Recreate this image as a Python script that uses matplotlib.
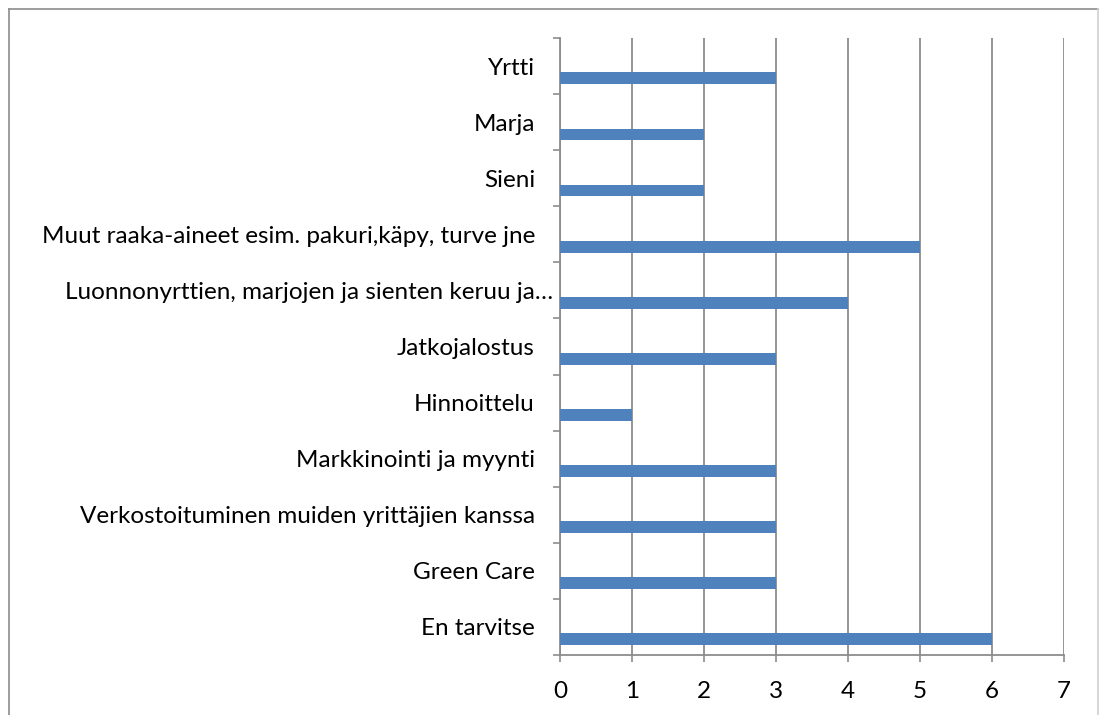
import numpy as np
import matplotlib.pyplot as plt
import matplotlib.transforms as mtransforms
from matplotlib.lines import Line2D

# === Daten (von oben nach unten) ===
categories = [
    "Yrtti",
    "Marja",
    "Sieni",
    "Muut raaka-aineet esim. pakuri,käpy, turve jne",
    "Luonnonyrttien, marjojen ja sienten keruu ja…",
    "Jatkojalostus",
    "Hinnoittelu",
    "Markkinointi ja myynti",
    "Verkostoituminen muiden yrittäjien kanssa",
    "Green Care",
    "En tarvitse",
]
values = [3, 2, 2, 5, 4, 3, 1, 3, 3, 3, 6]
xticks = [0, 1, 2, 3, 4, 5, 6, 7]

bar_color = "#4F81BD"
grid_color = "#8C8C8C"

plt.rcParams['font.family'] = ['Lato', 'DejaVu Sans']

fig = plt.figure(figsize=(11, 7.15), dpi=100)
ax = fig.add_axes([560 / 1100, 1 - 655 / 715, 504 / 1100, 617 / 715])

pos = np.arange(len(categories))
# Balken liegen im unteren Teil jeder Kategorie
ax.barh(pos + 0.22, values, height=0.21, color=bar_color, zorder=3)

ax.set_xlim(0, 7)
ax.set_ylim(len(categories) - 0.5, -0.5)

ax.set_xticks(xticks)
ax.set_xticklabels([str(v) for v in xticks])
ax.set_yticks(pos)
ax.set_yticklabels(categories)
ax.set_yticks(np.arange(len(categories) + 1) - 0.5, minor=True)

ax.tick_params(axis='y', which='major', length=0, pad=18, labelsize=17.5)
ax.tick_params(axis='y', which='minor', length=5, width=1.2, color=grid_color)
ax.tick_params(axis='x', length=5, width=1.2, color=grid_color, pad=14, labelsize=17.5)

# abgeschnittenes Label ragt etwas weiter nach rechts
lab = ax.get_yticklabels()[4]
lab.set_transform(lab.get_transform() + mtransforms.ScaledTranslation(0.18, 0, fig.dpi_scale_trans))

ax.grid(axis='x', color=grid_color, linewidth=1.3, zorder=0)
for s in ['top', 'right']:
    ax.spines[s].set_visible(False)
for s in ['left', 'bottom']:
    ax.spines[s].set_color(grid_color)
    ax.spines[s].set_linewidth(1.3)

# Rahmen um das Diagramm
fig.add_artist(Line2D([9 / 1100, 1098 / 1100], [1 - 9 / 715, 1 - 9 / 715], color="#8C8C8C", lw=1.2))
fig.add_artist(Line2D([9 / 1100, 9 / 1100], [0, 1 - 9 / 715], color="#8C8C8C", lw=1.2))
fig.add_artist(Line2D([1098 / 1100, 1098 / 1100], [0, 1 - 9 / 715], color="#D0D0D0", lw=1.2))

fig.savefig("out.png", dpi=100)
